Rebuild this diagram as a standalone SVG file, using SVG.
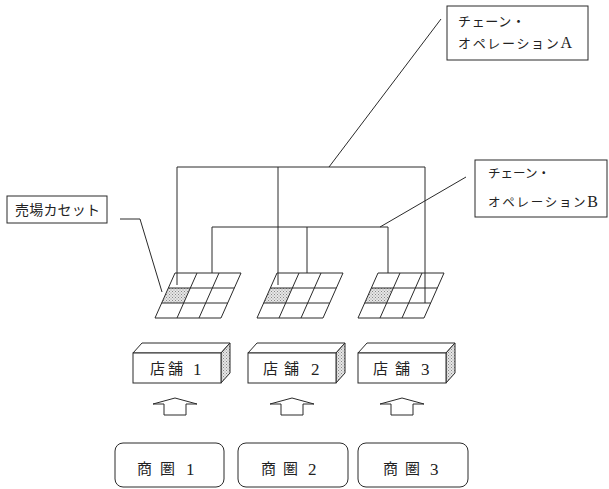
<svg xmlns="http://www.w3.org/2000/svg" width="609" height="489" viewBox="0 0 609 489">
<style>
.ln{fill:none;stroke:#2a2a2a;stroke-width:1}
.bx{fill:#fff;stroke:#2a2a2a;stroke-width:1}
.t{font-family:"Liberation Serif","Noto Sans CJK JP",serif;fill:#222}
.d{font-size:17px}
</style>
<defs>
<pattern id="dots" width="3" height="3" patternUnits="userSpaceOnUse">
<rect width="3" height="3" fill="#e6e6e6"/>
<rect width="1" height="1" fill="#888"/>
<rect x="1.5" y="1.5" width="1" height="1" fill="#999"/>
</pattern>
<g id="grid">
<polygon points="-6.67,15 15.33,15 8.67,30 -13.33,30" fill="url(#dots)" stroke="none"/>
<polygon class="ln" points="0,0 66,0 46,45 -20,45"/>
<line class="ln" x1="-6.67" y1="15" x2="59.33" y2="15"/>
<line class="ln" x1="-13.33" y1="30" x2="52.67" y2="30"/>
<line class="ln" x1="22" y1="0" x2="2" y2="45"/>
<line class="ln" x1="44" y1="0" x2="24" y2="45"/>
</g>
<g id="store">
<polygon class="bx" points="0,10 9,0 97,0 88,10"/>
<polygon points="88,10 97,0 97,30 88,40" fill="url(#dots)" stroke="#2a2a2a" stroke-width="1"/>
<rect class="bx" x="0" y="10" width="88" height="30"/>
</g>
<polygon id="arrow" class="bx" points="-22,404 0,398 22,404 11,404 11,415 -11,415 -11,404"/>
</defs>

<g id="connectors">
<polyline class="ln" points="177,285 177,167 425,167 425,303"/>
<line class="ln" x1="278" y1="167" x2="278" y2="285"/>
<line class="ln" x1="329" y1="167" x2="441" y2="19"/>
<polyline class="ln" points="212,273 212,227 388,227 388,273"/>
<line class="ln" x1="307" y1="227" x2="307" y2="273"/>
<line class="ln" x1="380" y1="227" x2="466" y2="177"/>
<polyline class="ln" points="120,219 140,219 162,292"/>
</g>

<g id="grid1"><use href="#grid" transform="translate(175,273)"/></g>
<g id="grid2"><use href="#grid" transform="translate(277,273)"/></g>
<g id="grid3"><use href="#grid" transform="translate(378,273)"/></g>

<g id="labelA">
<rect class="bx" x="447" y="6" width="141" height="54"/>
<text class="t" x="458" y="26" font-size="13" textLength="67" lengthAdjust="spacing">チェーン・</text>
<text class="t" x="458" y="48" font-size="13" textLength="114" lengthAdjust="spacing">オペレーション<tspan font-size="16">A</tspan></text>
</g>
<g id="labelB">
<rect class="bx" x="475" y="160" width="132" height="57"/>
<text class="t" x="488" y="178" font-size="12.5" textLength="62" lengthAdjust="spacing">チェーン・</text>
<text class="t" x="488" y="207" font-size="12.5" textLength="110" lengthAdjust="spacing">オペレーション<tspan font-size="16">B</tspan></text>
</g>
<g id="labelCassette">
<rect class="bx" x="7" y="196" width="100" height="27"/>
<text class="t" x="15" y="215" font-size="14" textLength="85" lengthAdjust="spacing">売場カセット</text>
</g>

<g id="store1"><use href="#store" transform="translate(133,343)"/><text class="t" font-size="15" x="150 168" y="374">店舗</text><text class="t d" x="193" y="375">1</text></g>
<g id="store2"><use href="#store" transform="translate(248,343)"/><text class="t" font-size="15" x="263 284" y="374">店舗</text><text class="t d" x="311" y="375">2</text></g>
<g id="store3"><use href="#store" transform="translate(358,343)"/><text class="t" font-size="15" x="373 395" y="374">店舗</text><text class="t d" x="421" y="375">3</text></g>

<g id="arrow1"><use href="#arrow" transform="translate(175,0)"/></g>
<g id="arrow2"><use href="#arrow" transform="translate(292,0)"/></g>
<g id="arrow3"><use href="#arrow" transform="translate(402,0)"/></g>

<g id="area1"><rect class="bx" x="115" y="443" width="109" height="44" rx="8"/><text class="t" font-size="15" x="137 160" y="474">商圏</text><text class="t d" x="186" y="475">1</text></g>
<g id="area2"><rect class="bx" x="238" y="443" width="110" height="44" rx="8"/><text class="t" font-size="15" x="261 283" y="474">商圏</text><text class="t d" x="308" y="475">2</text></g>
<g id="area3"><rect class="bx" x="358" y="443" width="110" height="44" rx="8"/><text class="t" font-size="15" x="383 405" y="474">商圏</text><text class="t d" x="430" y="475">3</text></g>
</svg>
